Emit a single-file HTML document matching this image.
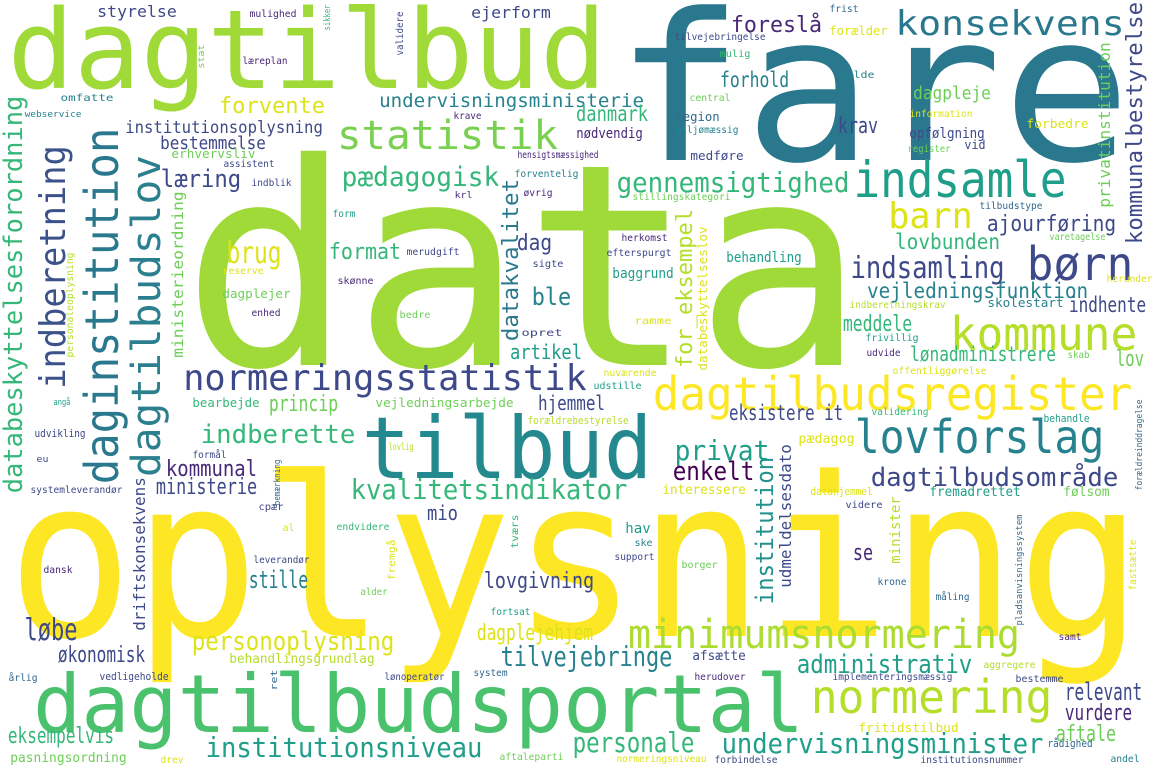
<!DOCTYPE html>
<html><head><meta charset="utf-8">
<style>
html,body{margin:0;padding:0;background:#fff;}
body{width:1155px;height:770px;overflow:hidden;}
svg{display:block;}
text{font-family:"DejaVu Sans Mono","Liberation Mono",monospace;}
</style></head>
<body>
<svg id="cloud" width="1155" height="770" viewBox="0 0 1155 770" xmlns="http://www.w3.org/2000/svg">
<rect x="0" y="0" width="1155" height="770" fill="#ffffff"/>
</svg>
<script>
const P1="#440154",P2="#482878",P3="#3e4989",P4="#31688e",P5="#26828e",P6="#1f9e89",P7="#35b779",P8="#6ece58",Y="#dde318",LG="#b5de2b";
// horizontal words: [word, inkLeft, baseline, fontSize, inkWidth, color]
const hWords=[
["fare",625,160,205,496,"#2a788e"],
["dagtilbud",13,88,110,588,"#a0da39"],
["data",196,365,282,655,"#a0da39"],
["oplysning",18,636,222,1114,"#fde725"],
["tilbud",366,478,86,282,"#23898e"],
["dagtilbudsportal",37,732,80,763,"#4ac16d"],
["konsekvens",897,35,34,226,"#2a788e"],
["foreslå",732,32,22,89,P2],
["forælder",830,35,12,57,Y],
["tilvejebringelse",675,40,10,90,P3],
["frist",830,12,10,28,P4],
["mulig",720,57,10,30,P7],
["forhold",721,87,21,67,P5],
["gælde",840,78,10,34,P5],
["central",690,101,10,40,P8],
["dagpleje",914,99,18,76,P8],
["information",910,117,10,62,Y],
["forbedre",1027,128,12,61,Y],
["styrelse",98,17,16,78,P3],
["mulighed",250,17,10,46,P2],
["ejerform",472,18,16,78,P3],
["læreplan",243,64,10,44,P2],
["omfatte",61,101,10,52,P5],
["webservice",25,117,9,56,P5],
["undervisningsministerie",380,107,19,263,P5],
["forvente",220,113,22,104,Y],
["institutionsoplysning",126,133,17,196,P3],
["statistik",339,149,40,217,"#7ad151"],
["bestemmelse",161,149,18,104,P3],
["erhvervsliv",172,158,12,83,P8],
["assistent",224,167,10,50,P3],
["læring",162,187,24,78,P3],
["indblik",252,186,10,39,P3],
["pædagogisk",343,186,27,155,P7],
["krave",454,119,10,27,P2],
["hensigtsmæssighed",518,158,10,80,P2],
["forventelig",515,177,10,63,P5],
["øvrig",524,196,10,28,P2],
["krl",455,198,9,17,P2],
["danmark",577,121,21,70,P7],
["region",676,121,12,43,P4],
["nødvendig",577,138,14,65,P2],
["miljømæssig",676,133,10,62,P5],
["krav",839,133,22,38,P3],
["opfølgning",910,138,14,74,P3],
["register",908,152,10,42,P8],
["vid",965,149,12,20,P3],
["medføre",691,160,12,52,P3],
["gennemsigtighed",618,192,28,230,P7],
["indsamle",856,197,50,208,P6],
["stillingskategori",633,200,10,97,P8],
["tilbudstype",980,209,10,62,P4],
["barn",890,228,36,81,Y],
["ajourføring",988,231,22,127,P3],
["herkomst",622,241,10,45,P2],
["lovbunden",896,249,21,103,P7],
["efterspurgt",607,256,10,64,P3],
["behandling",727,262,14,74,P6],
["dag",518,250,22,33,P3],
["merudgift",407,255,10,52,P3],
["sigte",533,267,10,30,P3],
["form",333,217,10,22,P6],
["format",330,259,22,70,P7],
["brug",228,263,30,52,Y],
["reserve",223,274,10,40,Y],
["skønne",338,284,10,35,P2],
["baggrund",613,278,14,60,P6],
["indsamling",852,278,30,151,P3],
["børn",1029,280,46,102,P3],
["herunder",1107,282,10,45,Y],
["dagplejer",223,298,12,67,P8],
["vejledningsfunktion",868,298,21,219,P5],
["ble",533,305,24,37,P5],
["varetagelse",1050,240,10,55,P8],
["enhed",252,316,10,28,P2],
["indberetningskrav",850,308,10,95,LG],
["skolestart",988,307,12,75,P5],
["indhente",1070,312,21,75,P3],
["bedre",400,318,10,30,P8],
["ramme",635,324,10,36,Y],
["meddele",844,331,22,67,P7],
["opret",522,336,10,40,P3],
["frivillig",866,341,10,52,P6],
["udvide",867,356,10,33,P2],
["kommune",952,350,46,183,LG],
["artikel",511,359,20,70,P6],
["lønadministrere",911,361,20,144,P7],
["skab",1068,358,10,21,P8],
["lov",1117,366,22,26,P8],
["nuværende",604,376,10,52,Y],
["offentliggørelse",893,374,10,93,Y],
["udstille",594,389,10,47,P6],
["normeringsstatistik",185,390,36,400,P3],
["dagtilbudsregister",655,410,46,475,"#fde725"],
["hjemmel",539,410,20,65,P3],
["angå",54,405,9,16,P6],
["bearbejde",193,407,12,66,P7],
["princip",270,411,22,67,P8],
["vejledningsarbejde",376,407,12,137,P8],
["udvikling",35,437,11,50,P3],
["forældrebestyrelse",528,424,11,100,LG],
["eksistere it",730,420,21,112,P3],
["validering",872,415,10,56,P7],
["behandle",1044,422,11,45,P6],
["indberette",202,443,26,152,P7],
["pædagog",799,443,13,55,Y],
["formål",193,458,10,33,P3],
["lovlig",389,450,10,24,LG],
["lovforslag",857,453,46,245,P5],
["privat",676,460,28,92,P6],
["eu",37,462,9,11,P3],
["kommunal",167,476,22,89,P2],
["enkelt",674,480,26,79,P1],
["dagtilbudsområde",872,486,26,245,P3],
["systemleverandør",31,493,10,91,P3],
["ministerie",157,494,22,99,P3],
["interessere",663,494,13,82,Y],
["datahjemmel",811,495,11,61,Y],
["fremadrettet",930,496,13,90,P6],
["følsom",1064,496,13,45,P8],
["kvalitetsindikator",352,499,28,274,P7],
["videre",846,508,10,36,P3],
["cpær",259,510,10,24,P3],
["mio",428,520,20,29,P3],
["al",283,531,10,11,Y],
["endvidere",337,530,10,52,P7],
["hav",626,533,14,24,P6],
["ske",635,546,10,17,P5],
["support",615,560,10,39,P3],
["se",854,560,22,18,P2],
["leverandør",254,563,10,55,P3],
["borger",682,568,10,35,P8],
["dansk",44,573,10,28,P2],
["krone",878,585,10,28,P4],
["stille",250,588,24,57,P5],
["lovgivning",485,588,22,108,P3],
["alder",361,595,10,26,P8],
["måling",936,600,10,33,P4],
["fortsat",491,615,10,39,P6],
["løbe",26,640,30,50,P3],
["samt",1059,640,10,22,P2],
["personoplysning",193,650,26,200,Y],
["dagplejehjem",478,640,22,114,Y],
["økonomisk",59,662,22,85,P3],
["behandlingsgrundlag",230,663,13,144,LG],
["tilvejebringe",502,666,28,169,P5],
["minimumsnormering",630,648,40,388,"#addc30"],
["afsætte",693,660,13,52,P3],
["aggregere",984,668,10,51,LG],
["administrativ",798,673,26,173,P6],
["årlig",9,681,10,28,P4],
["vedligeholde",100,680,11,68,P3],
["lønoperatør",385,680,10,59,P3],
["system",474,676,10,33,P4],
["herudover",695,680,10,50,P2],
["implementeringsmæssig",833,680,10,119,P3],
["bestemme",1016,682,10,47,P3],
["relevant",1066,700,24,75,P3],
["normering",813,713,46,237,LG],
["vurdere",1066,720,22,65,P2],
["fritidstilbud",859,732,12,99,Y],
["aftale",1057,741,22,58,P8],
["eksempelvis",9,743,22,104,P7],
["rådighed",1048,747,11,44,P4],
["institutionsniveau",207,757,28,274,P6],
["personale",574,752,28,119,P7],
["undervisningsminister",723,753,28,319,P6],
["pasningsordning",11,762,13,115,P8],
["drev",161,763,10,22,Y],
["aftaleparti",500,760,10,63,P8],
["normeringsniveau",617,762,10,89,Y],
["forbindelse",715,763,10,62,P3],
["institutionsnummer",921,763,10,102,P3],
["andel",1111,762,10,28,P5]
];
// vertical words (read bottom-to-top): [word, baselineX, inkBottom, inkTop, fontSize, color]
const vWords=[
["databeskyttelsesforordning",22,492,97,26,P7],
["indberetning",65,387,147,36,"#3b528b"],
["daginstitution",118,482,130,46,"#2a788e"],
["dagtilbudslov",160,475,157,40,"#2c7f8e"],
["ministerieordning",183,357,192,15,P8],
["personaleoplysning",73,357,253,10,LG],
["for_eksempel",692,367,210,22,LG],
["databeskyttelseslov",707,370,227,12,Y],
["datakvalitet",518,340,180,22,"#2a788e"],
["privatinstitution",1110,207,43,16,P8],
["kommunalbestyrelse",1142,243,3,22,P3],
["institution",773,603,458,24,"#21918c"],
["udmeldelsesdato",791,587,445,16,P3],
["minister",900,563,497,14,LG],
["driftskonsekvens",145,630,478,16,P3],
["bemærkning",280,505,460,9,P4],
["tværs",518,548,515,10,P7],
["fremgå",395,580,540,10,Y],
["ret",277,690,670,9,P4],
["pladsanvisningssystem",1022,625,515,9,P4],
["fastsætte",1136,590,540,10,Y],
["forældreinddragelse",1142,490,400,9,P4],
["sikker",330,30,5,9,P7],
["validere",403,55,12,10,P3],
["stat",204,68,45,9,P8]
];
const NS="http://www.w3.org/2000/svg";
const svg=document.getElementById("cloud");
function slug(w){return w.toLowerCase().replace(/æ/g,"ae").replace(/ø/g,"oe").replace(/å/g,"aa").replace(/[^a-z0-9]+/g,"-");}
hWords.forEach(function(d){
  const t=document.createElementNS(NS,"text");
  const s=d[3];
  t.setAttribute("x",(d[1]-0.05*s).toFixed(1));
  t.setAttribute("y",d[2]);
  t.setAttribute("font-size",s);
  t.setAttribute("fill",d[5]);
  t.setAttribute("textLength",(d[4]+0.1*s).toFixed(1));
  t.setAttribute("lengthAdjust","spacingAndGlyphs");
  
  
  t.textContent=d[0];
  svg.appendChild(t);
});
vWords.forEach(function(d){
  const t=document.createElementNS(NS,"text");
  const s=d[4];
  const len=d[2]-d[3];
  t.setAttribute("transform","translate("+d[1]+","+(d[2]+0.05*s).toFixed(1)+") rotate(-90)");
  t.setAttribute("x","0");
  t.setAttribute("y","0");
  t.setAttribute("font-size",s);
  t.setAttribute("fill",d[5]);
  t.setAttribute("textLength",(len+0.1*s).toFixed(1));
  t.setAttribute("lengthAdjust","spacingAndGlyphs");
  
  
  t.textContent=d[0];
  svg.appendChild(t);
});
</script>
</body></html>
